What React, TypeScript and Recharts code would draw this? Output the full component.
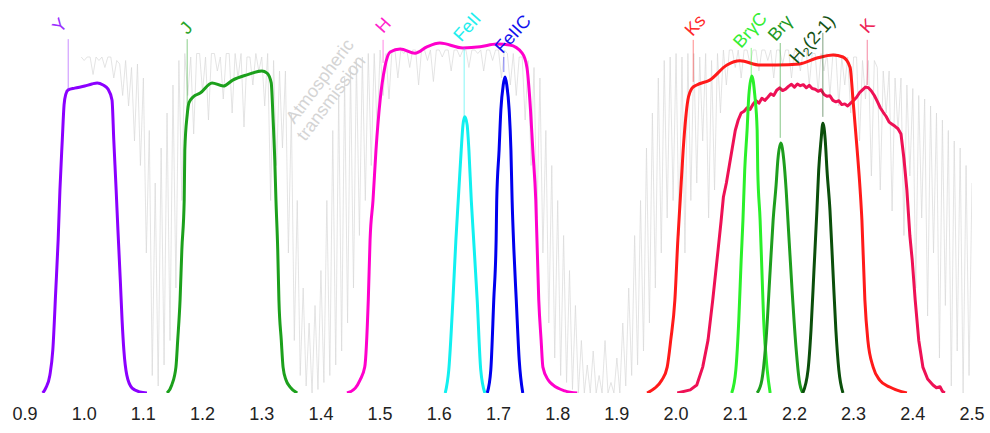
// ─── NIR FILTER CURVES ─── transmission of broad and narrow band filters ─────
import React from 'react';
import { LineChart, Line, XAxis, YAxis, ReferenceLine, ReferenceDot } from 'recharts';

type Pt = [number, number]; // [wavelength µm, transmission %]

// atmospheric transmission, sampled every 0.005 µm from 0.995 µm
const atmStart = 0.995;
const atmStep = 0.005;
const atmValues = [
  96, 95, 96, 96, 91, 96, 95, 96, 93, 96, 96, 90, 95, 94, 85, 95, 82,
  93, 72, 94, 65, 90, 40, 75, 5, 60, 2, 70, 8, 80, 15, 88, 30, 95, 55,
  97, 85, 96, 74, 97, 97, 86, 96, 78, 97, 97, 92, 96, 84, 97, 97, 80, 97, 90, 97,
  76, 96, 96, 88, 97, 92, 96, 82, 97, 55, 95, 65, 92,
  70, 92, 40, 80, 15, 55, 5, 30, 2, 20, 0, 25, 1, 35, 3, 55, 5, 75, 8, 85, 12, 90, 20, 93, 30, 95, 45, 96, 55, 97, 65, 97, 75, 98, 85,
  97, 84, 98, 98, 90, 98, 97, 98, 93, 98, 98, 88, 98, 98, 95, 98, 89, 98, 98, 96,
  98, 98, 92, 98, 98, 96, 98, 98, 93, 98, 98, 97, 98, 92, 98, 98, 95, 98, 98, 90,
  98, 97, 88, 97, 85, 96, 96, 78, 95, 65, 93, 50, 90, 40,
  75, 20, 65, 10, 55, 5, 45, 3, 35, 1, 25, 0, 15, 0, 8, 0, 12, 0, 5, 0,
  15, 0, 3, 0, 10, 0, 20, 2, 30, 5, 45, 8, 55, 12, 70, 20, 80, 30, 90, 40,
  95, 50, 96, 55, 97, 45, 96, 40, 97, 55,
  97, 60, 96, 72, 97, 50, 95, 58, 97, 80, 98, 88, 98, 98, 93, 98, 90, 98, 98, 94,
  98, 98, 92, 98, 98, 95, 98, 90, 98, 98, 94, 98, 98, 90, 98, 97, 92, 98, 98, 88,
  97, 97, 86, 97, 92, 97, 85, 97, 97, 82, 96, 88, 96, 80, 96, 96, 72, 95, 84, 95,
  62, 95, 93, 58, 92, 80, 92, 52, 90, 75, 90, 45, 88, 62, 87, 30, 85, 50, 84, 22,
  82, 40, 80, 10, 78, 25, 75, 2, 72, 12, 70, 0, 65, 5, 60,
];

const yBand: Pt[] = [
  [0.930, 0], [0.935, 1.4], [0.942, 5.1], [0.947, 12.3], [0.952, 29.4], [0.956, 43.7], [0.959, 58.0],
  [0.963, 72.3], [0.966, 82.3], [0.969, 85.4], [0.973, 86.6], [0.984, 87.1], [1.001, 87.7], [1.013, 88.3],
  [1.022, 88.6], [1.032, 88.0], [1.040, 86.9], [1.047, 83.7], [1.050, 72.3], [1.054, 58.0], [1.057, 46.6],
  [1.061, 32.3], [1.064, 20.9], [1.067, 12.3], [1.072, 5.1], [1.081, 1.4], [1.094, 0.3], [1.106, 0],
];

const jBand: Pt[] = [
  [1.140, 0], [1.148, 2.3], [1.155, 7.4], [1.158, 15.1], [1.162, 26.6], [1.165, 40.9], [1.169, 55.1],
  [1.170, 69.4], [1.174, 79.4], [1.177, 82.9], [1.184, 84.6], [1.196, 85.7], [1.216, 88.6], [1.235, 87.7],
  [1.251, 89.4], [1.275, 90.9], [1.300, 92.0], [1.309, 91.4], [1.316, 88.6], [1.319, 78.9], [1.322, 66.6],
  [1.324, 55.1], [1.327, 40.9], [1.329, 26.6], [1.333, 15.1], [1.336, 7.4], [1.341, 3.7], [1.348, 1.7], [1.360, 0],
];

const hBand: Pt[] = [
  [1.444, 0], [1.458, 1.4], [1.466, 3.7], [1.474, 7.4], [1.480, 26.6], [1.483, 43.7], [1.488, 55.1],
  [1.493, 69.4], [1.500, 83.7], [1.508, 93.1], [1.517, 97.4], [1.534, 98.3], [1.559, 97.1], [1.579, 98.9],
  [1.601, 100], [1.640, 98.6], [1.669, 98.9], [1.697, 99.7], [1.719, 99.4], [1.740, 97.1], [1.748, 93.1],
  [1.753, 83.7], [1.758, 69.4], [1.763, 55.1], [1.768, 26.6], [1.772, 15.1], [1.775, 7.4], [1.784, 3.7],
  [1.792, 2.3], [1.812, 0.6], [1.833, 0],
];

const feII: Pt[] = [
  [1.610, 0], [1.616, 6.6], [1.623, 26.6], [1.628, 43.7], [1.632, 55.1], [1.637, 69.4], [1.640, 76.6],
  [1.643, 78.9], [1.647, 76.6], [1.650, 69.4], [1.654, 55.1], [1.657, 46.6], [1.664, 26.6], [1.670, 6.6], [1.677, 0],
];

const feIIC: Pt[] = [
  [1.681, 0], [1.687, 6.6], [1.692, 26.6], [1.696, 43.7], [1.697, 55.1], [1.701, 69.4], [1.704, 80.9],
  [1.708, 88.0], [1.711, 90.3], [1.714, 88.0], [1.718, 80.9], [1.721, 69.4], [1.723, 55.1], [1.726, 40.9],
  [1.730, 26.6], [1.735, 9.4], [1.741, 0],
];

const ksBand: Pt[] = [
  [1.951, 0], [1.964, 1.4], [1.976, 3.7], [1.985, 7.4], [1.991, 15.1], [1.998, 26.6], [2.003, 43.7],
  [2.007, 55.1], [2.012, 69.4], [2.020, 83.7], [2.027, 87.1], [2.035, 88.0], [2.057, 89.4], [2.086, 93.7],
  [2.108, 94.9], [2.142, 93.7], [2.170, 93.7], [2.209, 94.0], [2.238, 95.7], [2.265, 96.6], [2.282, 96.0],
  [2.294, 93.1], [2.299, 83.7], [2.306, 69.4], [2.311, 58.0], [2.314, 49.4], [2.319, 26.6], [2.324, 15.1],
  [2.333, 7.4], [2.344, 3.7], [2.361, 1.7], [2.390, 0],
];

const kBand: Pt[] = [
  [2.002, 0], [2.024, 0.9], [2.035, 2.3], [2.045, 7.4], [2.054, 15.1], [2.062, 26.6], [2.071, 40.9],
  [2.076, 49], [2.080, 56], [2.085, 60], [2.090, 65], [2.095, 70], [2.100, 75], [2.105, 78], [2.110, 80],
  [2.115, 80.5], [2.120, 81.5], [2.125, 81], [2.130, 82.5], [2.135, 83.5], [2.140, 82.8], [2.145, 84.2],
  [2.150, 83.6], [2.155, 84.5], [2.160, 85.5], [2.165, 85], [2.170, 86.5], [2.175, 87.2], [2.180, 86.4],
  [2.185, 86.8], [2.190, 87.6], [2.195, 88.2], [2.200, 87.4], [2.205, 88.3], [2.210, 87.8], [2.215, 88.1],
  [2.220, 87.2], [2.225, 87.9], [2.230, 87.0], [2.235, 86.8], [2.240, 86.2], [2.245, 86.6], [2.250, 85.3],
  [2.255, 84.8], [2.260, 84.9], [2.265, 83.6], [2.270, 83.2], [2.275, 83.5], [2.280, 82.4], [2.285, 82.6],
  [2.290, 82.0], [2.295, 82.8], [2.300, 83.6], [2.305, 84.5], [2.310, 85.8], [2.315, 86.6], [2.320, 87.4],
  [2.325, 87.2], [2.330, 86.3], [2.335, 85.0], [2.340, 83.3], [2.345, 81.5], [2.350, 80.2], [2.355, 79.0],
  [2.360, 77.4], [2.365, 76.8], [2.370, 76.2], [2.375, 75.5], [2.380, 74.0], [2.385, 67], [2.390, 58],
  [2.395, 45], [2.399, 38.0], [2.404, 26.6], [2.410, 15.1], [2.417, 7.4], [2.425, 4], [2.434, 2.3],
  [2.440, 1.5], [2.446, 1.8], [2.450, 0.5], [2.454, 0],
];

const brgC: Pt[] = [
  [2.094, 0], [2.101, 6.6], [2.106, 20.9], [2.110, 38.0], [2.113, 49.4], [2.116, 63.7], [2.120, 75.1],
  [2.123, 85.1], [2.128, 90.6], [2.133, 85.1], [2.137, 75.1], [2.138, 63.7], [2.142, 49.4], [2.145, 35.1],
  [2.148, 20.9], [2.154, 6.6], [2.159, 0],
];

const brg: Pt[] = [
  [2.137, 0], [2.145, 3.7], [2.152, 15.1], [2.159, 35.1], [2.164, 49.4], [2.169, 59.4], [2.172, 66.6],
  [2.177, 71.4], [2.182, 66.6], [2.186, 58.0], [2.189, 49.4], [2.196, 29.4], [2.203, 12.3], [2.208, 3.7], [2.214, 0],
];

const h2: Pt[] = [
  [2.214, 0], [2.223, 6.6], [2.228, 18.0], [2.233, 35.1], [2.238, 52.3], [2.241, 63.7], [2.245, 72.3],
  [2.248, 77.1], [2.252, 72.3], [2.255, 63.7], [2.260, 52.3], [2.265, 35.1], [2.270, 18.0], [2.275, 6.6], [2.282, 0],
];

const xTicks = [0.9, 1.0, 1.1, 1.2, 1.3, 1.4, 1.5, 1.6, 1.7, 1.8, 1.9, 2.0, 2.1, 2.2, 2.3, 2.4, 2.5];

// filter labels: text centre and the thin pointer line under it
const labelNames = ['Y', 'J', 'H', 'FeII', 'FeIIC', 'Ks', 'BrγC', 'Brγ', 'H2(2-1)', 'K'];
const labelTextW = [0.959, 1.172, 1.505, 1.647, 1.724, 2.032, 2.125, 2.176, 2.230, 2.323];
const labelTextV = [105.1, 104.3, 105.1, 104.6, 102.6, 105.1, 103.7, 104.3, 101.1, 104.9];
const labelLineW = [0.973, 1.174, 1.505, 1.642, 1.709, 2.029, 2.127, 2.176, 2.248, 2.323];
const labelLineTop = [101.1, 101.1, 100.9, 98.6, 96.0, 100.9, 98.6, 100.0, 102.9, 100.9];
const labelLineBottom = [86.6, 79.4, 94.3, 78.9, 91.7, 88.9, 90.6, 72.9, 78.9, 88.0];

const FONT = "'Liberation Sans', Arial, Helvetica, sans-serif";

const filters = [
  { name: 'Y', data: yBand, color: '#8B00FF', type: 'monotone' },
  { name: 'J', data: jBand, color: '#1CA01C', type: 'monotone' },
  { name: 'H', data: hBand, color: '#FF00CC', type: 'monotone' },
  { name: 'FeII', data: feII, color: '#11F0F0', type: 'monotone' },
  { name: 'FeIIC', data: feIIC, color: '#0000EE', type: 'monotone' },
  { name: 'K', data: kBand, color: '#EE1155', type: 'linear' },
  { name: 'Ks', data: ksBand, color: '#FF1A1A', type: 'monotone' },
  { name: 'BrγC', data: brgC, color: '#2AF02A', type: 'monotone' },
  { name: 'Brγ', data: brg, color: '#1E9E1E', type: 'monotone' },
  { name: 'H2(2-1)', data: h2, color: '#0B4F0B', type: 'monotone' },
];

const labelColor: Record<string, string> = {
  Y: '#9B30FF', J: '#2AA52A', H: '#FF22CC', FeII: '#22EEEE', FeIIC: '#1111EE', Ks: '#FF2A2A',
  'BrγC': '#33EE33', 'Brγ': '#229922', 'H2(2-1)': '#145214', K: '#EE2255',
};

const toRows = (pts: Pt[]) => pts.map(([w, t]) => ({ w, t }));
const atmRows = atmValues.map((t, i) => ({ w: +(atmStart + i * atmStep).toFixed(3), t }));

const RotText = ({ cx, cy, text, color, angle = -48, size = 18 }: any) => {
  const isH2 = text === 'H2(2-1)';
  return (
    <text
      x={cx}
      y={cy}
      transform={`rotate(${angle} ${cx} ${cy})`}
      textAnchor="middle"
      dominantBaseline="central"
      fill={color}
      fontSize={size}
      fontFamily={FONT}
    >
      {isH2 ? (
        <>
          <tspan>H</tspan>
          <tspan fontSize={12} dy={5}>2</tspan>
          <tspan dy={-5}>(2-1)</tspan>
        </>
      ) : (
        text
      )}
    </text>
  );
};

export default function App() {
  return (
    <div style={{ position: 'absolute', left: 0, top: 0, width: 990, height: 433, background: '#fff' }}>
      <LineChart width={990} height={433} margin={{ top: 8, right: 18, left: 25, bottom: 0 }}>
        <XAxis
          dataKey="w"
          type="number"
          domain={[0.9, 2.5]}
          ticks={xTicks}
          tickFormatter={(v: number) => v.toFixed(1)}
          axisLine={false}
          tickLine={false}
          tickMargin={8}
          height={40}
          tick={{ fill: '#222', fontSize: 18, fontFamily: FONT }}
          allowDataOverflow
        />
        <YAxis hide domain={[0, 110]} type="number" allowDataOverflow />
        <Line
          data={atmRows}
          dataKey="t"
          type="linear"
          stroke="#d9d9d9"
          strokeWidth={0.7}
          dot={false}
          isAnimationActive={false}
        />
        {filters.map((f) => (
          <Line
            key={f.name}
            data={toRows(f.data)}
            dataKey="t"
            name={f.name}
            type={f.type as any}
            stroke={f.color}
            strokeWidth={3}
            strokeLinejoin="round"
            dot={false}
            isAnimationActive={false}
          />
        ))}
        {labelNames.map((n, i) => (
          <ReferenceLine
            key={'l' + n}
            segment={[
              { x: labelLineW[i], y: labelLineTop[i] },
              { x: labelLineW[i], y: labelLineBottom[i] },
            ]}
            stroke={labelColor[n]}
            strokeOpacity={0.55}
            strokeWidth={1}
            ifOverflow="visible"
          />
        ))}
        {labelNames.map((n, i) => (
          <ReferenceDot
            key={'t' + n}
            x={labelTextW[i]}
            y={labelTextV[i]}
            r={1}
            ifOverflow="visible"
            shape={(p: any) => <RotText cx={p.cx} cy={p.cy} text={n} color={labelColor[n]} />}
          />
        ))}
        <ReferenceDot
          x={1.398}
          y={89.1}
          r={1}
          ifOverflow="visible"
          shape={(p: any) => <RotText cx={p.cx} cy={p.cy} text="Atmospheric" color="#d4d4d4" angle={-53} />}
        />
        <ReferenceDot
          x={1.417}
          y={84.3}
          r={1}
          ifOverflow="visible"
          shape={(p: any) => <RotText cx={p.cx} cy={p.cy} text="transmission" color="#d4d4d4" angle={-53} />}
        />
      </LineChart>
    </div>
  );
}
